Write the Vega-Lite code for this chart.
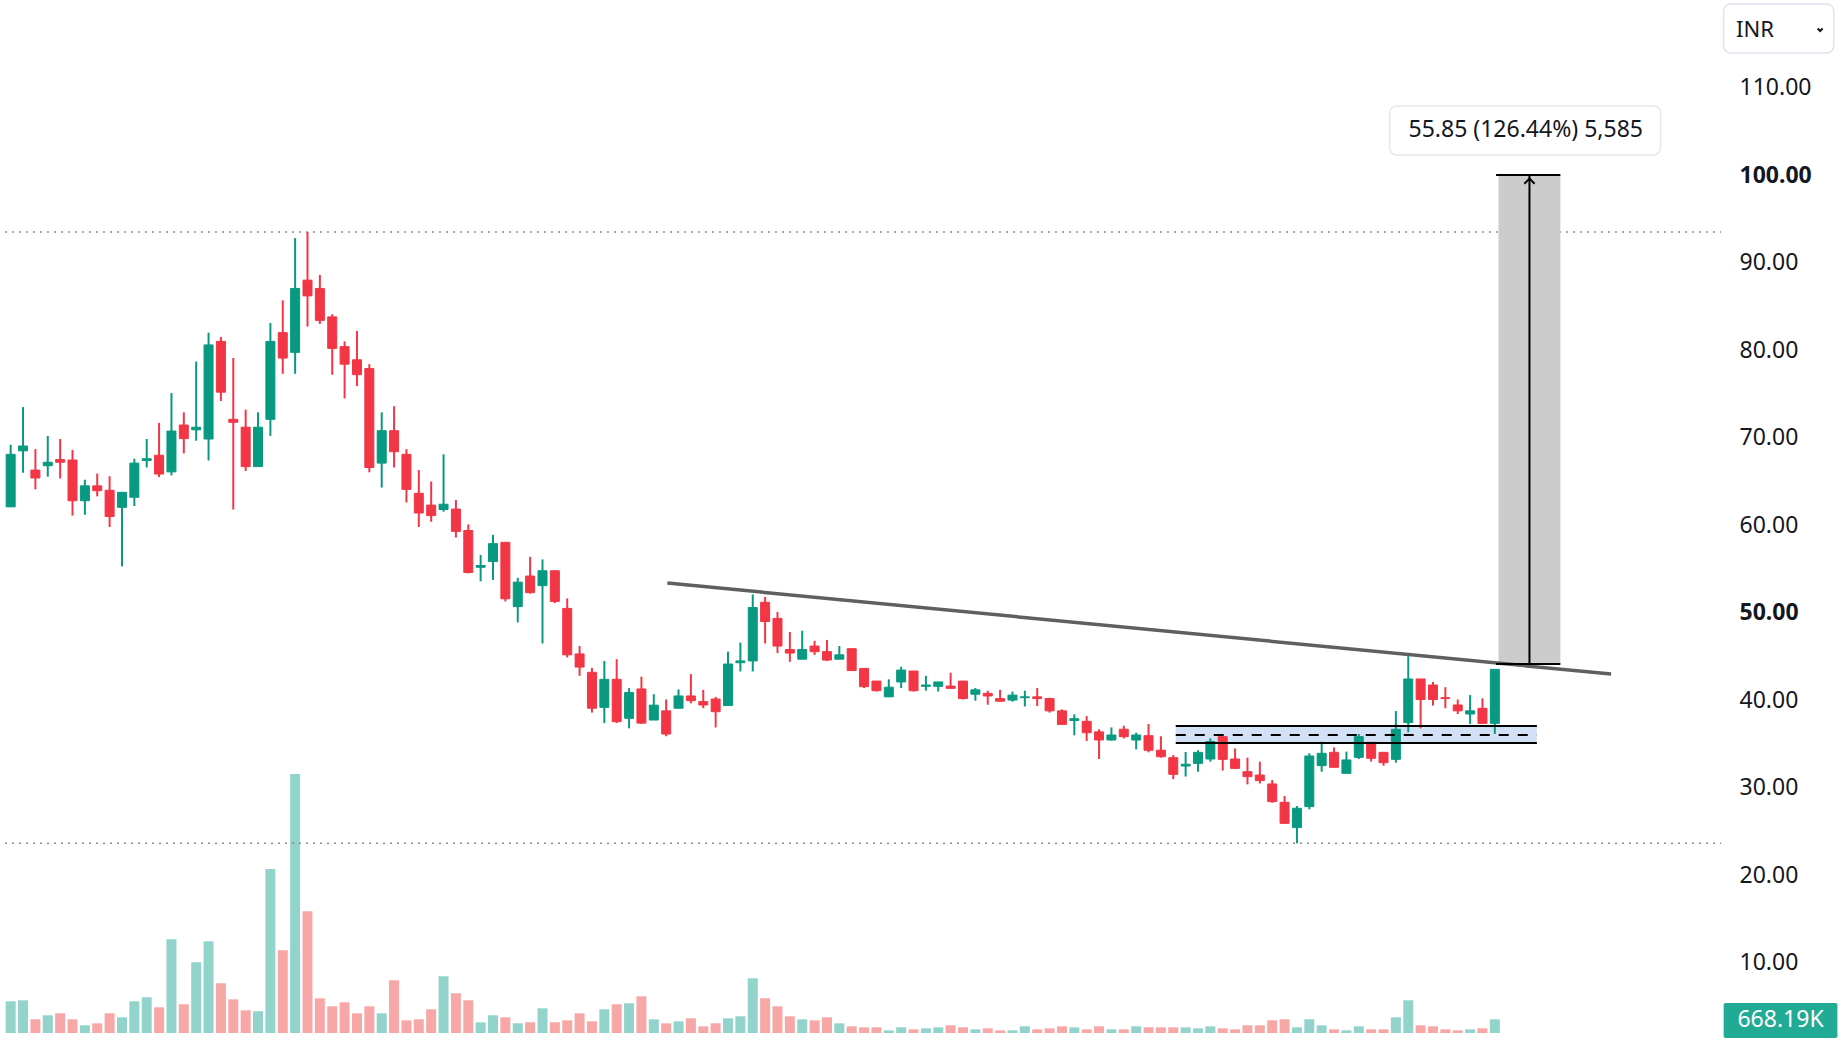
{
  "$schema": "https://vega.github.io/schema/vega-lite/v6.json",
  "width": 1730,
  "height": 1040,
  "autosize": "none",
  "padding": {"left": 0, "top": 0, "right": 118, "bottom": 0},
  "background": "#ffffff",
  "config": {"view": {"stroke": null}, "font": "Noto Sans"},
  "datasets": {
    "candles": [
      {"i":1,"o":62.1,"h":69.2,"l":62.1,"c":68.1,"v":1548},
      {"i":2,"o":68.5,"h":73.5,"l":66.0,"c":69.05,"v":1597},
      {"i":3,"o":66.3,"h":68.7,"l":64.1,"c":65.4,"v":668},
      {"i":4,"o":66.8,"h":70.2,"l":65.55,"c":67.2,"v":864},
      {"i":5,"o":67.5,"h":69.85,"l":65.35,"c":67.2,"v":962},
      {"i":6,"o":67.45,"h":68.6,"l":61.1,"c":62.8,"v":668},
      {"i":7,"o":62.8,"h":65.2,"l":61.2,"c":64.5,"v":375},
      {"i":8,"o":64.5,"h":65.9,"l":63.3,"c":63.95,"v":473},
      {"i":9,"o":64.0,"h":65.6,"l":59.8,"c":61.0,"v":962},
      {"i":10,"o":62.05,"h":63.8,"l":55.3,"c":63.76,"v":766},
      {"i":11,"o":63.2,"h":67.6,"l":62.2,"c":67.1,"v":1548},
      {"i":12,"o":67.4,"h":69.85,"l":66.6,"c":67.6,"v":1744},
      {"i":13,"o":68.0,"h":71.7,"l":65.5,"c":65.85,"v":1255},
      {"i":14,"o":66.1,"h":75.1,"l":65.7,"c":70.76,"v":4580},
      {"i":15,"o":71.45,"h":72.9,"l":68.2,"c":69.9,"v":1402},
      {"i":16,"o":70.9,"h":78.7,"l":69.66,"c":71.2,"v":3456},
      {"i":17,"o":69.85,"h":82.0,"l":67.4,"c":80.6,"v":4482},
      {"i":18,"o":81.0,"h":81.5,"l":74.2,"c":75.2,"v":2429},
      {"i":19,"o":72.1,"h":79.1,"l":61.8,"c":71.76,"v":1646},
      {"i":20,"o":71.2,"h":73.2,"l":66.2,"c":66.7,"v":1108},
      {"i":21,"o":66.7,"h":72.9,"l":66.7,"c":71.2,"v":1060},
      {"i":22,"o":72.1,"h":83.1,"l":70.2,"c":81.0,"v":8003},
      {"i":23,"o":82.0,"h":85.7,"l":77.3,"c":79.1,"v":4042},
      {"i":24,"o":79.75,"h":92.8,"l":77.3,"c":87.05,"v":12649},
      {"i":25,"o":88.0,"h":93.5,"l":82.7,"c":86.2,"v":5950},
      {"i":26,"o":87.05,"h":88.6,"l":83.0,"c":83.4,"v":1695},
      {"i":27,"o":83.8,"h":84.1,"l":77.2,"c":80.2,"v":1304},
      {"i":28,"o":80.4,"h":81.0,"l":74.5,"c":78.4,"v":1500},
      {"i":29,"o":78.9,"h":82.2,"l":75.9,"c":77.2,"v":962},
      {"i":30,"o":77.9,"h":78.4,"l":66.05,"c":66.6,"v":1304},
      {"i":31,"o":67.1,"h":72.9,"l":64.3,"c":70.8,"v":962},
      {"i":32,"o":70.8,"h":73.6,"l":66.6,"c":68.4,"v":2575},
      {"i":33,"o":68.1,"h":68.7,"l":62.6,"c":64.1,"v":619},
      {"i":34,"o":63.65,"h":66.3,"l":59.8,"c":61.4,"v":668},
      {"i":35,"o":62.3,"h":65.0,"l":60.4,"c":61.1,"v":1157},
      {"i":36,"o":61.8,"h":68.1,"l":61.55,"c":62.4,"v":2771},
      {"i":37,"o":61.85,"h":62.9,"l":58.6,"c":59.3,"v":1940},
      {"i":38,"o":59.4,"h":60.1,"l":54.5,"c":54.6,"v":1597},
      {"i":39,"o":55.2,"h":56.6,"l":53.6,"c":55.4,"v":522},
      {"i":40,"o":55.85,"h":58.9,"l":53.75,"c":57.9,"v":864},
      {"i":41,"o":58.05,"h":58.05,"l":51.3,"c":51.6,"v":766},
      {"i":42,"o":50.7,"h":54.0,"l":48.9,"c":53.5,"v":473},
      {"i":43,"o":54.2,"h":56.4,"l":52.2,"c":52.3,"v":522},
      {"i":44,"o":53.1,"h":56.1,"l":46.5,"c":54.8,"v":1206},
      {"i":45,"o":54.8,"h":54.8,"l":51.1,"c":51.3,"v":522},
      {"i":46,"o":50.5,"h":51.65,"l":44.9,"c":45.2,"v":619},
      {"i":47,"o":45.3,"h":46.2,"l":42.8,"c":43.8,"v":962},
      {"i":48,"o":43.2,"h":43.7,"l":38.6,"c":39.1,"v":570},
      {"i":49,"o":39.2,"h":44.5,"l":37.4,"c":42.4,"v":1157},
      {"i":50,"o":42.4,"h":44.7,"l":37.4,"c":37.56,"v":1402},
      {"i":51,"o":37.95,"h":41.4,"l":36.8,"c":40.9,"v":1451},
      {"i":52,"o":41.3,"h":42.7,"l":37.3,"c":37.4,"v":1793},
      {"i":53,"o":37.75,"h":40.7,"l":37.75,"c":39.45,"v":668},
      {"i":54,"o":38.8,"h":40.1,"l":35.9,"c":36.15,"v":473},
      {"i":55,"o":39.1,"h":41.25,"l":39.1,"c":40.5,"v":570},
      {"i":56,"o":40.5,"h":43.0,"l":39.66,"c":39.96,"v":717},
      {"i":57,"o":39.85,"h":41.2,"l":39.1,"c":39.47,"v":326},
      {"i":58,"o":40.15,"h":40.4,"l":36.9,"c":38.7,"v":473},
      {"i":59,"o":39.4,"h":45.56,"l":39.4,"c":44.15,"v":717},
      {"i":60,"o":44.3,"h":46.6,"l":43.3,"c":44.5,"v":815},
      {"i":61,"o":44.5,"h":52.1,"l":43.3,"c":50.6,"v":2673},
      {"i":62,"o":51.2,"h":51.8,"l":46.5,"c":49.0,"v":1695},
      {"i":63,"o":49.36,"h":50.1,"l":45.4,"c":46.2,"v":1304},
      {"i":64,"o":45.8,"h":47.8,"l":44.4,"c":45.4,"v":815},
      {"i":65,"o":44.7,"h":47.95,"l":44.7,"c":45.8,"v":668},
      {"i":66,"o":46.2,"h":46.8,"l":45.2,"c":45.56,"v":619},
      {"i":67,"o":45.56,"h":46.9,"l":44.5,"c":44.6,"v":766},
      {"i":68,"o":44.7,"h":46.2,"l":44.7,"c":45.2,"v":473},
      {"i":69,"o":45.9,"h":45.9,"l":43.4,"c":43.4,"v":326},
      {"i":70,"o":43.65,"h":43.65,"l":41.4,"c":41.56,"v":277},
      {"i":71,"o":42.2,"h":42.2,"l":41.0,"c":41.1,"v":277},
      {"i":72,"o":40.4,"h":42.4,"l":40.4,"c":41.5,"v":130},
      {"i":73,"o":42.1,"h":43.84,"l":41.4,"c":43.46,"v":277},
      {"i":74,"o":43.35,"h":43.35,"l":41.0,"c":41.1,"v":179},
      {"i":75,"o":41.6,"h":42.8,"l":41.1,"c":41.75,"v":228},
      {"i":76,"o":41.6,"h":42.1,"l":41.0,"c":42.1,"v":277},
      {"i":77,"o":41.63,"h":43.16,"l":41.37,"c":41.37,"v":375},
      {"i":78,"o":42.2,"h":42.2,"l":40.1,"c":40.2,"v":277},
      {"i":79,"o":40.7,"h":41.4,"l":39.96,"c":41.2,"v":179},
      {"i":80,"o":40.8,"h":41.1,"l":39.5,"c":40.5,"v":228},
      {"i":81,"o":40.2,"h":41.2,"l":39.85,"c":39.9,"v":130},
      {"i":82,"o":40.03,"h":41.0,"l":39.85,"c":40.6,"v":130},
      {"i":83,"o":40.3,"h":41.1,"l":39.3,"c":40.4,"v":326},
      {"i":84,"o":40.4,"h":41.4,"l":39.35,"c":40.2,"v":179},
      {"i":85,"o":40.2,"h":40.3,"l":38.6,"c":38.8,"v":228},
      {"i":86,"o":38.8,"h":38.96,"l":37.2,"c":37.25,"v":326},
      {"i":87,"o":37.7,"h":38.4,"l":36.0,"c":37.9,"v":277},
      {"i":88,"o":37.6,"h":38.2,"l":35.35,"c":36.3,"v":179},
      {"i":89,"o":36.4,"h":36.7,"l":33.3,"c":35.47,"v":326},
      {"i":90,"o":35.47,"h":36.9,"l":35.4,"c":36.04,"v":179},
      {"i":91,"o":36.7,"h":37.1,"l":35.65,"c":35.85,"v":179},
      {"i":92,"o":35.47,"h":36.3,"l":34.4,"c":36.04,"v":326},
      {"i":93,"o":35.96,"h":37.3,"l":34.06,"c":34.3,"v":277},
      {"i":94,"o":34.3,"h":35.9,"l":33.45,"c":33.56,"v":277},
      {"i":95,"o":33.45,"h":33.75,"l":31.0,"c":31.55,"v":277},
      {"i":96,"o":32.5,"h":34.1,"l":31.3,"c":32.7,"v":277},
      {"i":97,"o":32.8,"h":34.3,"l":31.85,"c":34.06,"v":228},
      {"i":98,"o":33.3,"h":35.66,"l":32.99,"c":35.3,"v":326},
      {"i":99,"o":35.85,"h":35.85,"l":31.97,"c":33.26,"v":228},
      {"i":100,"o":33.3,"h":34.5,"l":32.2,"c":32.23,"v":179},
      {"i":101,"o":31.85,"h":33.45,"l":30.4,"c":31.28,"v":375},
      {"i":102,"o":31.47,"h":32.99,"l":30.5,"c":30.83,"v":375},
      {"i":103,"o":30.45,"h":30.9,"l":28.3,"c":28.43,"v":619},
      {"i":104,"o":28.35,"h":29.07,"l":25.95,"c":25.95,"v":668},
      {"i":105,"o":25.46,"h":27.93,"l":23.67,"c":27.67,"v":277},
      {"i":106,"o":27.86,"h":33.95,"l":27.55,"c":33.64,"v":668},
      {"i":107,"o":32.54,"h":35.28,"l":31.85,"c":33.95,"v":375},
      {"i":108,"o":34.06,"h":34.63,"l":32.35,"c":32.35,"v":179},
      {"i":109,"o":31.66,"h":34.14,"l":31.66,"c":33.19,"v":130},
      {"i":110,"o":33.49,"h":36.15,"l":33.3,"c":35.85,"v":326},
      {"i":111,"o":35.2,"h":35.2,"l":33.0,"c":33.38,"v":179},
      {"i":112,"o":34.06,"h":34.06,"l":32.54,"c":32.88,"v":179},
      {"i":113,"o":33.26,"h":38.78,"l":32.88,"c":36.69,"v":766},
      {"i":114,"o":37.45,"h":45.06,"l":36.35,"c":42.44,"v":1597},
      {"i":115,"o":42.44,"h":42.44,"l":36.8,"c":40.1,"v":375},
      {"i":116,"o":41.75,"h":42.1,"l":39.4,"c":40.1,"v":326},
      {"i":117,"o":40.3,"h":41.5,"l":39.1,"c":40.2,"v":179},
      {"i":118,"o":39.47,"h":40.1,"l":38.44,"c":38.8,"v":130},
      {"i":119,"o":38.44,"h":40.6,"l":37.3,"c":38.8,"v":179},
      {"i":120,"o":39.09,"h":40.23,"l":37.37,"c":37.37,"v":228},
      {"i":121,"o":37.37,"h":43.54,"l":36.16,"c":43.54,"v":668}
    ],
    "levels": [{"p": 93.5}, {"p": 23.67}],
    "trend": [{"i": 54.1, "p": 53.4}, {"i": 130.4, "p": 43.0}]
  },
  "resolve": {"scale": {"y": "independent"}},
  "layer": [
    {
      "data": {"name": "candles"},
      "mark": {"type": "bar", "width": 10},
      "encoding": {
        "x": {"field": "i", "type": "quantitative", "scale": {"domain": [0.542, 139.61], "nice": false, "zero": false}, "axis": null},
        "y": {"field": "v", "type": "quantitative", "scale": {"domain": [-342, 50440], "nice": false}, "axis": null},
        "color": {"condition": {"test": "datum.c >= datum.o", "value": "#92d3cc"}, "value": "#f7a8a6"}
      }
    },
    {
      "layer": [
        {
          "data": {"name": "levels"},
          "mark": {"type": "rule", "color": "#8a8d96", "strokeWidth": 1.6, "strokeDash": [2, 5]},
          "encoding": {
            "x": {"datum": 0.542, "type": "quantitative", "scale": {"domain": [0.542, 139.61], "nice": false, "zero": false}},
            "x2": {"datum": 139.3},
            "y": {"field": "p", "type": "quantitative", "scale": {"domain": [1.2, 120], "nice": false, "zero": false},
              "axis": {"orient": "right", "values": [10, 20, 30, 40, 50, 60, 70, 80, 90, 100, 110], "format": ".2f", "domain": false, "ticks": false, "grid": false, "title": null, "labelPadding": 9, "labelFontSize": 23, "labelColor": "#131722", "labelFont": "Noto Sans",
                "labelFontWeight": {"condition": {"test": "datum.value == 100 || datum.value == 50", "value": "bold"}, "value": "normal"}}}
          }
        },
        {
          "data": {"values": [{}]},
          "mark": {"type": "rect", "color": "#d3e1f6"},
          "encoding": {
            "x": {"datum": 95.2, "type": "quantitative", "scale": {"domain": [0.542, 139.61], "nice": false, "zero": false}},
            "x2": {"datum": 124.4},
            "y": {"datum": 37.06, "type": "quantitative", "scale": {"domain": [1.2, 120], "nice": false, "zero": false}},
            "y2": {"datum": 35.12}
          }
        },
        {
          "data": {"values": [{}]},
          "mark": {"type": "rect", "color": "#cccccc"},
          "encoding": {
            "x": {"datum": 121.3, "type": "quantitative", "scale": {"domain": [0.542, 139.61], "nice": false, "zero": false}},
            "x2": {"datum": 126.3},
            "y": {"datum": 100, "type": "quantitative", "scale": {"domain": [1.2, 120], "nice": false, "zero": false}},
            "y2": {"datum": 44.15}
          }
        },
        {
          "data": {"name": "trend"},
          "mark": {"type": "line", "color": "#5f5f5f", "strokeWidth": 3.5},
          "encoding": {
            "x": {"field": "i", "type": "quantitative", "scale": {"domain": [0.542, 139.61], "nice": false, "zero": false}},
            "y": {"field": "p", "type": "quantitative", "scale": {"domain": [1.2, 120], "nice": false, "zero": false}}
          }
        },
        {
          "data": {"name": "candles"},
          "mark": {"type": "rule", "strokeWidth": 2},
          "encoding": {
            "x": {"field": "i", "type": "quantitative", "scale": {"domain": [0.542, 139.61], "nice": false, "zero": false}},
            "y": {"field": "l", "type": "quantitative", "scale": {"domain": [1.2, 120], "nice": false, "zero": false}},
            "y2": {"field": "h"},
            "color": {"condition": {"test": "datum.c >= datum.o", "value": "#089981"}, "value": "#f23645"}
          }
        },
        {
          "data": {"name": "candles"},
          "mark": {"type": "bar", "width": 9, "strokeWidth": 1},
          "encoding": {
            "x": {"field": "i", "type": "quantitative", "scale": {"domain": [0.542, 139.61], "nice": false, "zero": false}},
            "y": {"field": "o", "type": "quantitative", "scale": {"domain": [1.2, 120], "nice": false, "zero": false}},
            "y2": {"field": "c"},
            "color": {"condition": {"test": "datum.c >= datum.o", "value": "#089981"}, "value": "#f23645"},
            "stroke": {"condition": {"test": "datum.c >= datum.o", "value": "#089981"}, "value": "#f23645"}
          }
        },
        {
          "data": {"values": [{"p": 37.06}, {"p": 35.12}]},
          "mark": {"type": "rule", "color": "#000000", "strokeWidth": 2},
          "encoding": {
            "x": {"datum": 95.2, "type": "quantitative", "scale": {"domain": [0.542, 139.61], "nice": false, "zero": false}},
            "x2": {"datum": 124.4},
            "y": {"field": "p", "type": "quantitative", "scale": {"domain": [1.2, 120], "nice": false, "zero": false}}
          }
        },
        {
          "data": {"values": [{"p": 36.04}]},
          "mark": {"type": "rule", "color": "#000000", "strokeWidth": 2, "strokeDash": [10, 9]},
          "encoding": {
            "x": {"datum": 95.2, "type": "quantitative", "scale": {"domain": [0.542, 139.61], "nice": false, "zero": false}},
            "x2": {"datum": 124.4},
            "y": {"field": "p", "type": "quantitative", "scale": {"domain": [1.2, 120], "nice": false, "zero": false}}
          }
        },
        {
          "data": {"values": [{"p": 100}, {"p": 44.15}]},
          "mark": {"type": "rule", "color": "#000000", "strokeWidth": 2},
          "encoding": {
            "x": {"datum": 121.1, "type": "quantitative", "scale": {"domain": [0.542, 139.61], "nice": false, "zero": false}},
            "x2": {"datum": 126.3},
            "y": {"field": "p", "type": "quantitative", "scale": {"domain": [1.2, 120], "nice": false, "zero": false}}
          }
        },
        {
          "data": {"values": [{}]},
          "mark": {"type": "rule", "color": "#000000", "strokeWidth": 2},
          "encoding": {
            "x": {"datum": 123.8, "type": "quantitative", "scale": {"domain": [0.542, 139.61], "nice": false, "zero": false}},
            "y": {"datum": 44.15, "type": "quantitative", "scale": {"domain": [1.2, 120], "nice": false, "zero": false}},
            "y2": {"datum": 100}
          }
        },
        {
          "data": {"values": [{}]},
          "mark": {"type": "point", "shape": "M-0.5,0.25L0,-0.25L0.5,0.25", "filled": false, "size": 420, "stroke": "#000000", "strokeWidth": 2, "opacity": 1},
          "encoding": {
            "x": {"datum": 123.8, "type": "quantitative", "scale": {"domain": [0.542, 139.61], "nice": false, "zero": false}},
            "y": {"datum": 99.3, "type": "quantitative", "scale": {"domain": [1.2, 120], "nice": false, "zero": false}}
          }
        },
        {
          "data": {"values": [{}]},
          "mark": {"type": "rect", "fill": "#ffffff", "stroke": "#e6e8ee", "strokeWidth": 1.5, "cornerRadius": 7},
          "encoding": {
            "x": {"datum": 112.5, "type": "quantitative", "scale": {"domain": [0.542, 139.61], "nice": false, "zero": false}},
            "x2": {"datum": 134.4},
            "y": {"datum": 107.9, "type": "quantitative", "scale": {"domain": [1.2, 120], "nice": false, "zero": false}},
            "y2": {"datum": 102.3}
          }
        },
        {
          "data": {"values": [{"t": "55.85 (126.44%) 5,585"}]},
          "mark": {"type": "text", "fontSize": 23, "color": "#131722", "align": "center", "baseline": "middle", "font": "Noto Sans"},
          "encoding": {
            "x": {"datum": 123.5, "type": "quantitative", "scale": {"domain": [0.542, 139.61], "nice": false, "zero": false}},
            "y": {"datum": 105.1, "type": "quantitative", "scale": {"domain": [1.2, 120], "nice": false, "zero": false}},
            "text": {"field": "t"}
          }
        },
        {
          "data": {"values": [{}]},
          "mark": {"type": "rect", "fill": "#ffffff", "stroke": "#e0e3eb", "strokeWidth": 1.5, "cornerRadius": 7},
          "encoding": {
            "x": {"datum": 139.5, "type": "quantitative", "scale": {"domain": [0.542, 139.61], "nice": false, "zero": false}},
            "x2": {"datum": 148.4},
            "y": {"datum": 119.54, "type": "quantitative", "scale": {"domain": [1.2, 120], "nice": false, "zero": false}},
            "y2": {"datum": 113.94}
          }
        },
        {
          "data": {"values": [{"t": "INR"}]},
          "mark": {"type": "text", "fontSize": 22, "color": "#131722", "align": "left", "baseline": "middle", "font": "Noto Sans"},
          "encoding": {
            "x": {"datum": 140.5, "type": "quantitative", "scale": {"domain": [0.542, 139.61], "nice": false, "zero": false}},
            "y": {"datum": 116.6, "type": "quantitative", "scale": {"domain": [1.2, 120], "nice": false, "zero": false}},
            "text": {"field": "t"}
          }
        },
        {
          "data": {"values": [{}]},
          "mark": {"type": "point", "shape": "M-0.5,-0.25L0,0.25L0.5,-0.25", "filled": false, "size": 100, "stroke": "#131722", "strokeWidth": 2, "opacity": 1},
          "encoding": {
            "x": {"datum": 147.3, "type": "quantitative", "scale": {"domain": [0.542, 139.61], "nice": false, "zero": false}},
            "y": {"datum": 116.6, "type": "quantitative", "scale": {"domain": [1.2, 120], "nice": false, "zero": false}}
          }
        },
        {
          "data": {"values": [{}]},
          "mark": {"type": "rect", "fill": "#22ab94", "cornerRadius": 2},
          "encoding": {
            "x": {"datum": 139.5, "type": "quantitative", "scale": {"domain": [0.542, 139.61], "nice": false, "zero": false}},
            "x2": {"datum": 148.7},
            "y": {"datum": 5.42, "type": "quantitative", "scale": {"domain": [1.2, 120], "nice": false, "zero": false}},
            "y2": {"datum": 1.43}
          }
        },
        {
          "data": {"values": [{"t": "668.19K"}]},
          "mark": {"type": "text", "fontSize": 23, "color": "#ffffff", "align": "center", "baseline": "middle", "font": "Noto Sans"},
          "encoding": {
            "x": {"datum": 144.1, "type": "quantitative", "scale": {"domain": [0.542, 139.61], "nice": false, "zero": false}},
            "y": {"datum": 3.45, "type": "quantitative", "scale": {"domain": [1.2, 120], "nice": false, "zero": false}},
            "text": {"field": "t"}
          }
        }
      ]
    }
  ]
}
